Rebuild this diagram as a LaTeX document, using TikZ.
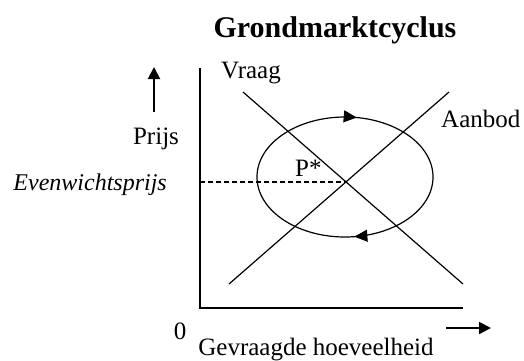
\documentclass[tikz,border=0pt]{standalone}
\usepackage{fontspec}
\setmainfont{Liberation Serif}
\usetikzlibrary{arrows.meta,decorations.markings}
\begin{document}
\begin{tikzpicture}[x=1pt,y=-1pt,
  lbl/.style={inner sep=0pt,font=\fontsize{25}{28}\selectfont},
  axis/.style={line width=2.6pt},
  curve/.style={line width=1.2pt},
  bigarrow/.style={line width=2pt,-{Triangle[length=12pt,width=12pt]}}]
\useasboundingbox (0,0) rectangle (524,360);
\node[inner sep=0pt,anchor=base,font=\fontsize{30}{34}\selectfont\bfseries] (title) at (335,37) {Grondmarktcyclus};
% axes
\coordinate (o) at (200,308);
\coordinate (ytop) at (200,68);
\coordinate (xend) at (463,308);
\draw[axis] (ytop) -- (o) -- (xend);
% axis arrows
\coordinate (ua) at (154,112);
\coordinate (ub) at (154,67);
\draw[bigarrow] (ua) -- (ub);
\coordinate (ra) at (446,328);
\coordinate (rb) at (491,328);
\draw[bigarrow] (ra) -- (rb);
% lines
\coordinate (v1) at (243,92);
\coordinate (v2) at (463,284);
\coordinate (a1) at (229,284);
\coordinate (a2) at (449,92);
\draw[curve] (v1) -- (v2);
\draw[curve] (a1) -- (a2);
\coordinate (eq) at (345,182);
\coordinate (eqy) at (200,182);
\draw[line width=1.2pt,dash pattern=on 5pt off 3pt] (eqy) -- (eq);
% ellipse
\coordinate (c) at (345,177);
\draw[curve,postaction={decorate},decoration={markings,
  mark=at position 0.275 with {\arrow{Triangle[length=13pt,width=12pt]}},
  mark=at position 0.73 with {\arrow{Triangle[length=13pt,width=12pt]}}}]
  (c) ++(-88,0) arc[start angle=180,end angle=540,x radius=88,y radius=60];
% labels
\node[lbl,anchor=base west] (vraag) at (221,78) {Vraag};
\node[lbl,anchor=base west] (aanbod) at (441,127) {Aanbod};
\node[lbl,anchor=base] (prijs) at (156,144) {Prijs};
\node[lbl,anchor=base east,font=\fontsize{24}{28}\selectfont\itshape] (ev) at (167,190) {Evenwichtsprijs};
\node[lbl,anchor=base west] (pstar) at (295,176) {P*};
\node[lbl,anchor=base] (zero) at (180,339) {0};
\node[lbl,anchor=base] (gh) at (316,355) {Gevraagde hoeveelheid};
\end{tikzpicture}
\end{document}
